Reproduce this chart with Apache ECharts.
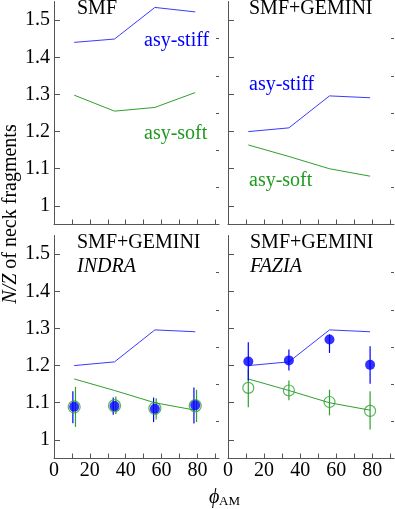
<!DOCTYPE html>
<html>
<head>
<meta charset="utf-8">
<script src="https://cdn.jsdelivr.net/npm/echarts@6/dist/echarts.min.js"></script>
<style>
  html, body { margin: 0; padding: 0; background: #fff; }
  #chart { width: 395px; height: 509px; }
</style>
</head>
<body>
<div id="chart"></div>
<script>
// angle bins (phi_AM, degrees)
const angles = [11.25, 33.75, 56.25, 78.75];

// SMF model curves
const smfStiff = [1.440, 1.449, 1.534, 1.522];
const smfSoft = [1.298, 1.255, 1.265, 1.305];

// SMF+GEMINI model curves
const gemStiff = [1.200, 1.210, 1.296, 1.291];
const gemSoft = [1.164, 1.133, 1.100, 1.080];

// INDRA filter
const indraBlue = [1.089, 1.091, 1.084, 1.093];
const indraBlueLo = [1.045, 1.068, 1.048, 1.044];
const indraBlueHi = [1.131, 1.114, 1.114, 1.141];
const indraGreen = [1.089, 1.092, 1.085, 1.092];
const indraGreenLo = [1.035, 1.070, 1.055, 1.048];
const indraGreenHi = [1.143, 1.117, 1.112, 1.135];

// FAZIA filter
const faziaBlue = [1.211, 1.214, 1.270, 1.202];
const faziaBlueLo = [1.160, 1.187, 1.234, 1.151];
const faziaBlueHi = [1.263, 1.243, 1.284, 1.252];
const faziaGreen = [1.140, 1.133, 1.102, 1.078];
const faziaGreenLo = [1.088, 1.107, 1.066, 1.028];
const faziaGreenHi = [1.190, 1.160, 1.135, 1.131];

// ticks
const xTicks = [0, 10, 20, 30, 40, 50, 60, 70, 80, 90];
const xLabels = [0, 20, 40, 60, 80];
const yMajor = [1.0, 1.1, 1.2, 1.3, 1.4, 1.5];
const yMinor = [1.05, 1.15, 1.25, 1.35, 1.45];

const BLUE = "#0000ff";
const BLUE_LINE = "#3a3aff";
const GREEN = "#1f9a1f";
const GREEN_LINE = "#2ea02e";
const AXIS = "#555";
const FONT = "Liberation Serif";
const FS = 20;

const myChart = echarts.init(document.getElementById("chart"));

const grids = [
  { left: 54, top: 1.5, width: 165, height: 223 },
  { left: 228, top: 1.5, width: 166, height: 223 },
  { left: 54, top: 235.5, width: 165, height: 223 },
  { left: 228, top: 235.5, width: 166, height: 223 },
];

const xAxis = grids.map((g, i) => ({
  type: "value",
  gridIndex: i,
  min: 0,
  max: 92,
  axisLine: { lineStyle: { color: AXIS, width: 1 } },
  axisTick: { inside: true, length: 5, customValues: xTicks, lineStyle: { color: AXIS } },
  axisLabel: {
    show: i >= 2,
    customValues: xLabels,
    margin: 2,
    color: "#000",
    fontFamily: FONT,
    fontSize: FS,
  },
  splitLine: { show: false },
}));

const yAxis = [];
grids.forEach((g, i) => {
  yAxis.push({
    type: "value",
    gridIndex: i,
    min: 0.95,
    max: 1.55,
    axisLine: { show: true, lineStyle: { color: AXIS, width: 1 } },
    axisTick: { inside: true, length: 6, customValues: yMajor, lineStyle: { color: AXIS } },
    axisLabel: {
      show: i % 2 === 0,
      customValues: yMajor,
      margin: 4,
      color: "#000",
      fontFamily: FONT,
      fontSize: FS,
      formatter: (v) => String(Math.round(v * 10) / 10),
    },
    splitLine: { show: false },
  });
  // minor ticks
  yAxis.push({
    type: "value",
    gridIndex: i,
    min: 0.95,
    max: 1.55,
    axisLine: { show: false },
    axisTick: { show: true, inside: true, length: 3, customValues: yMinor, lineStyle: { color: AXIS } },
    axisLabel: { show: false },
    splitLine: { show: false },
  });
});

function lineSeries(g, vals, color) {
  return {
    type: "line",
    xAxisIndex: g,
    yAxisIndex: g * 2,
    data: angles.map((a, k) => [a, vals[k]]),
    symbol: "none",
    lineStyle: { color: color, width: 1 },
    z: 2,
  };
}

function errSeries(g, lo, hi, color, off) {
  return {
    type: "custom",
    xAxisIndex: g,
    yAxisIndex: g * 2,
    data: angles.map((a, k) => [a, lo[k], hi[k]]),
    encode: { x: 0, y: [1, 2] },
    renderItem(params, api) {
      const p1 = api.coord([api.value(0), api.value(1)]);
      const p2 = api.coord([api.value(0), api.value(2)]);
      return {
        type: "line",
        shape: { x1: p1[0] + off, y1: p1[1], x2: p2[0] + off, y2: p2[1] },
        style: { stroke: color, lineWidth: 1.2 },
      };
    },
    z: 3,
  };
}

function dotSeries(g, vals, filled, color, size) {
  return {
    type: "scatter",
    xAxisIndex: g,
    yAxisIndex: g * 2,
    data: angles.map((a, k) => [a, vals[k]]),
    symbol: "circle",
    symbolSize: size,
    itemStyle: filled
      ? { color: color }
      : { color: "transparent", borderColor: color, borderWidth: 1.2 },
    z: 4,
  };
}

const series = [
  lineSeries(0, smfStiff, BLUE_LINE),
  lineSeries(0, smfSoft, GREEN_LINE),
  lineSeries(1, gemStiff, BLUE_LINE),
  lineSeries(1, gemSoft, GREEN_LINE),
  lineSeries(2, gemStiff, BLUE_LINE),
  lineSeries(2, gemSoft, GREEN_LINE),
  lineSeries(3, gemStiff, BLUE_LINE),
  lineSeries(3, gemSoft, GREEN_LINE),
  // INDRA
  errSeries(2, indraGreenLo, indraGreenHi, GREEN_LINE, 1.3),
  dotSeries(2, indraGreen, false, GREEN_LINE, 12),
  errSeries(2, indraBlueLo, indraBlueHi, BLUE, -1.3),
  dotSeries(2, indraBlue, true, BLUE, 10),
  // FAZIA
  errSeries(3, faziaGreenLo, faziaGreenHi, GREEN_LINE, 0),
  dotSeries(3, faziaGreen, false, GREEN_LINE, 11),
  errSeries(3, faziaBlueLo, faziaBlueHi, BLUE, 0),
  dotSeries(3, faziaBlue, true, BLUE, 10),
];

function label(x, y, text, color, italic, size) {
  return {
    type: "text",
    x: x,
    y: y,
    z: 10,
    style: {
      text: text,
      fill: color || "#000",
      fontFamily: FONT,
      fontSize: size || FS,
      fontStyle: italic ? "italic" : "normal",
      align: "left",
      verticalAlign: "middle",
    },
  };
}

const graphic = [
  label(77, 9, "SMF"),
  label(249, 9, "SMF+GEMINI"),
  label(77, 243, "SMF+GEMINI"),
  label(77, 266.5, "INDRA", "#000", true),
  label(250, 243, "SMF+GEMINI"),
  label(250, 266.5, "FAZIA", "#000", true),
  label(144, 40.5, "asy-stiff", BLUE),
  label(144, 134, "asy-soft", GREEN),
  label(249, 84.5, "asy-stiff", BLUE),
  label(249, 180.5, "asy-soft", GREEN),
  {
    type: "text",
    x: 10.5,
    y: 214,
    rotation: Math.PI / 2,
    z: 10,
    style: {
      text: "{i|N/Z} of neck fragments",
      fill: "#000",
      fontFamily: FONT,
      fontSize: FS,
      align: "center",
      verticalAlign: "middle",
      rich: {
        i: { fontStyle: "italic", fontFamily: FONT, fontSize: FS, fill: "#000" },
      },
    },
  },
  label(209, 497.5, "ϕ", "#000", true, 20),
  label(219, 501.5, "AM", "#000", false, 13),
];

const option = {
  animation: false,
  backgroundColor: "#fff",
  grid: grids,
  xAxis: xAxis,
  yAxis: yAxis,
  series: series,
  graphic: graphic,
};

myChart.setOption(option);
</script>
</body>
</html>
